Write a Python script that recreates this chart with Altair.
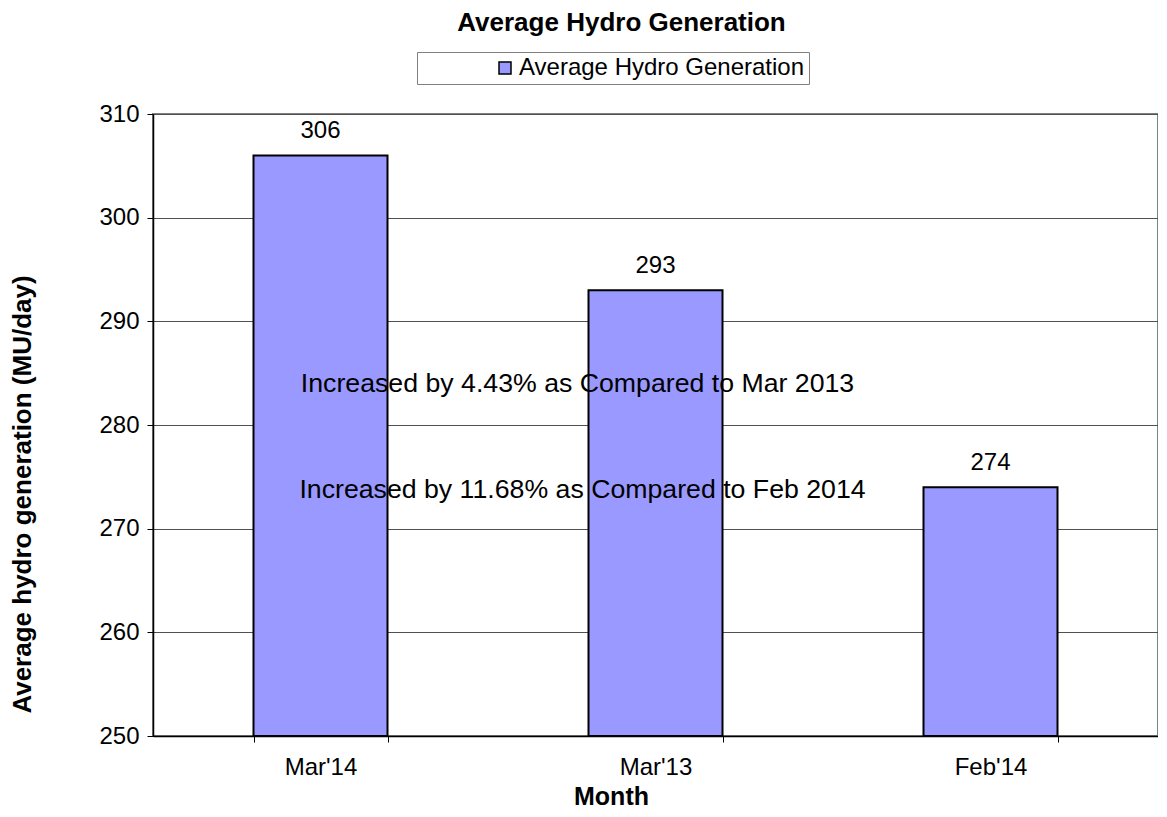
import altair as alt
import pandas as pd

months = ["Mar'14", "Mar'13", "Feb'14"]
values = [306, 293, 274]
series_name = "Average Hydro Generation"
y_ticks = [250, 260, 270, 280, 290, 300, 310]
notes = ["Increased by 4.43% as Compared to Mar 2013",
         "Increased by 11.68% as Compared to Feb 2014"]
note_values = [284.0, 273.7]
note_month = ["Mar'13", "Mar'13"]
note_shift = [-78, -73]

FONT = "Arial, Liberation Sans, sans-serif"

df = pd.DataFrame({"Month": months, "value": values, "base": [250] * len(values),
                   "series": [series_name] * len(values)})
notes_df = pd.DataFrame({"Month": note_month, "value": note_values, "text": notes,
                         "shift": note_shift})

x_enc = alt.X("Month:N", sort=months,
              scale=alt.Scale(paddingInner=0.6, paddingOuter=0.3),
              axis=alt.Axis(title="Month", labelAngle=0, labelFontSize=24, labelFont=FONT,
                            labelColor="black", titleFont=FONT, titleFontSize=25,
                            titleFontWeight="bold", titleColor="black",
                            titleX=458, titleY=60, titleBaseline="middle",
                            domainColor="black", domainWidth=1.5, tickColor="black",
                            tickSize=6, tickBand="extent", labelPadding=13, grid=False))

y_scale = alt.Scale(domain=[250, 310], nice=False, zero=False)

bars = alt.Chart(df).mark_bar(stroke="black", strokeWidth=2, color="#9999FF").encode(
    x=x_enc,
    y=alt.Y("value:Q", scale=y_scale,
            axis=alt.Axis(title="Average hydro generation (MU/day)", values=y_ticks,
                          labelFontSize=24, labelFont=FONT, labelColor="black",
                          titleFont=FONT, titleFontSize=26, titleFontWeight="bold",
                          titleColor="black", titleX=-131, titleY=380,
                          titleAngle=270, titleBaseline="middle",
                          domainColor="black", domainWidth=1.5, tickColor="black",
                          tickSize=6, labelPadding=8, gridColor="#505050",
                          gridWidth=1)),
    y2="base:Q",
    fill=alt.Fill("series:N", scale=alt.Scale(range=["#9999FF"]),
                  legend=alt.Legend(title=None, orient="none", legendX=264, legendY=-62,
                                    direction="horizontal", labelFontSize=24,
                                    labelFont=FONT, labelColor="black", labelLimit=600,
                                    symbolType="square", symbolSize=144,
                                    symbolStrokeColor="black", symbolStrokeWidth=1.5,
                                    symbolOffset=72, labelOffset=2,
                                    strokeColor="#808080", padding=4,
                                    fillColor="white")),
)

labels = alt.Chart(df).mark_text(baseline="bottom", dy=-12, fontSize=24, font=FONT,
                                 color="black").encode(
    x=alt.X("Month:N", sort=months),
    y=alt.Y("value:Q", scale=y_scale),
    text=alt.Text("value:Q"),
)

note_text = alt.Chart(notes_df).transform_filter("datum.shift == -78").mark_text(
    dx=-78, fontSize=26.7, font=FONT, color="black", baseline="middle").encode(
    x=alt.X("Month:N", sort=months),
    y=alt.Y("value:Q", scale=y_scale),
    text="text:N",
)
note_text2 = alt.Chart(notes_df).transform_filter("datum.shift == -73").mark_text(
    dx=-73, fontSize=26.7, font=FONT, color="black", baseline="middle").encode(
    x=alt.X("Month:N", sort=months),
    y=alt.Y("value:Q", scale=y_scale),
    text="text:N",
)

chart = alt.layer(bars, labels, note_text, note_text2).properties(
    width=1005, height=622,
    title=alt.TitleParams(series_name, fontSize=26, font=FONT, fontWeight="bold",
                          color="black", anchor="middle", dx=-34, offset=16),
    autosize=alt.AutoSizeParams(type="none"),
    padding={"left": 145, "top": 106, "right": 0, "bottom": 73},
).configure_view(stroke="#808080", strokeWidth=2)

chart.save("out.html", embed_options={"renderer": "svg", "actions": False})
